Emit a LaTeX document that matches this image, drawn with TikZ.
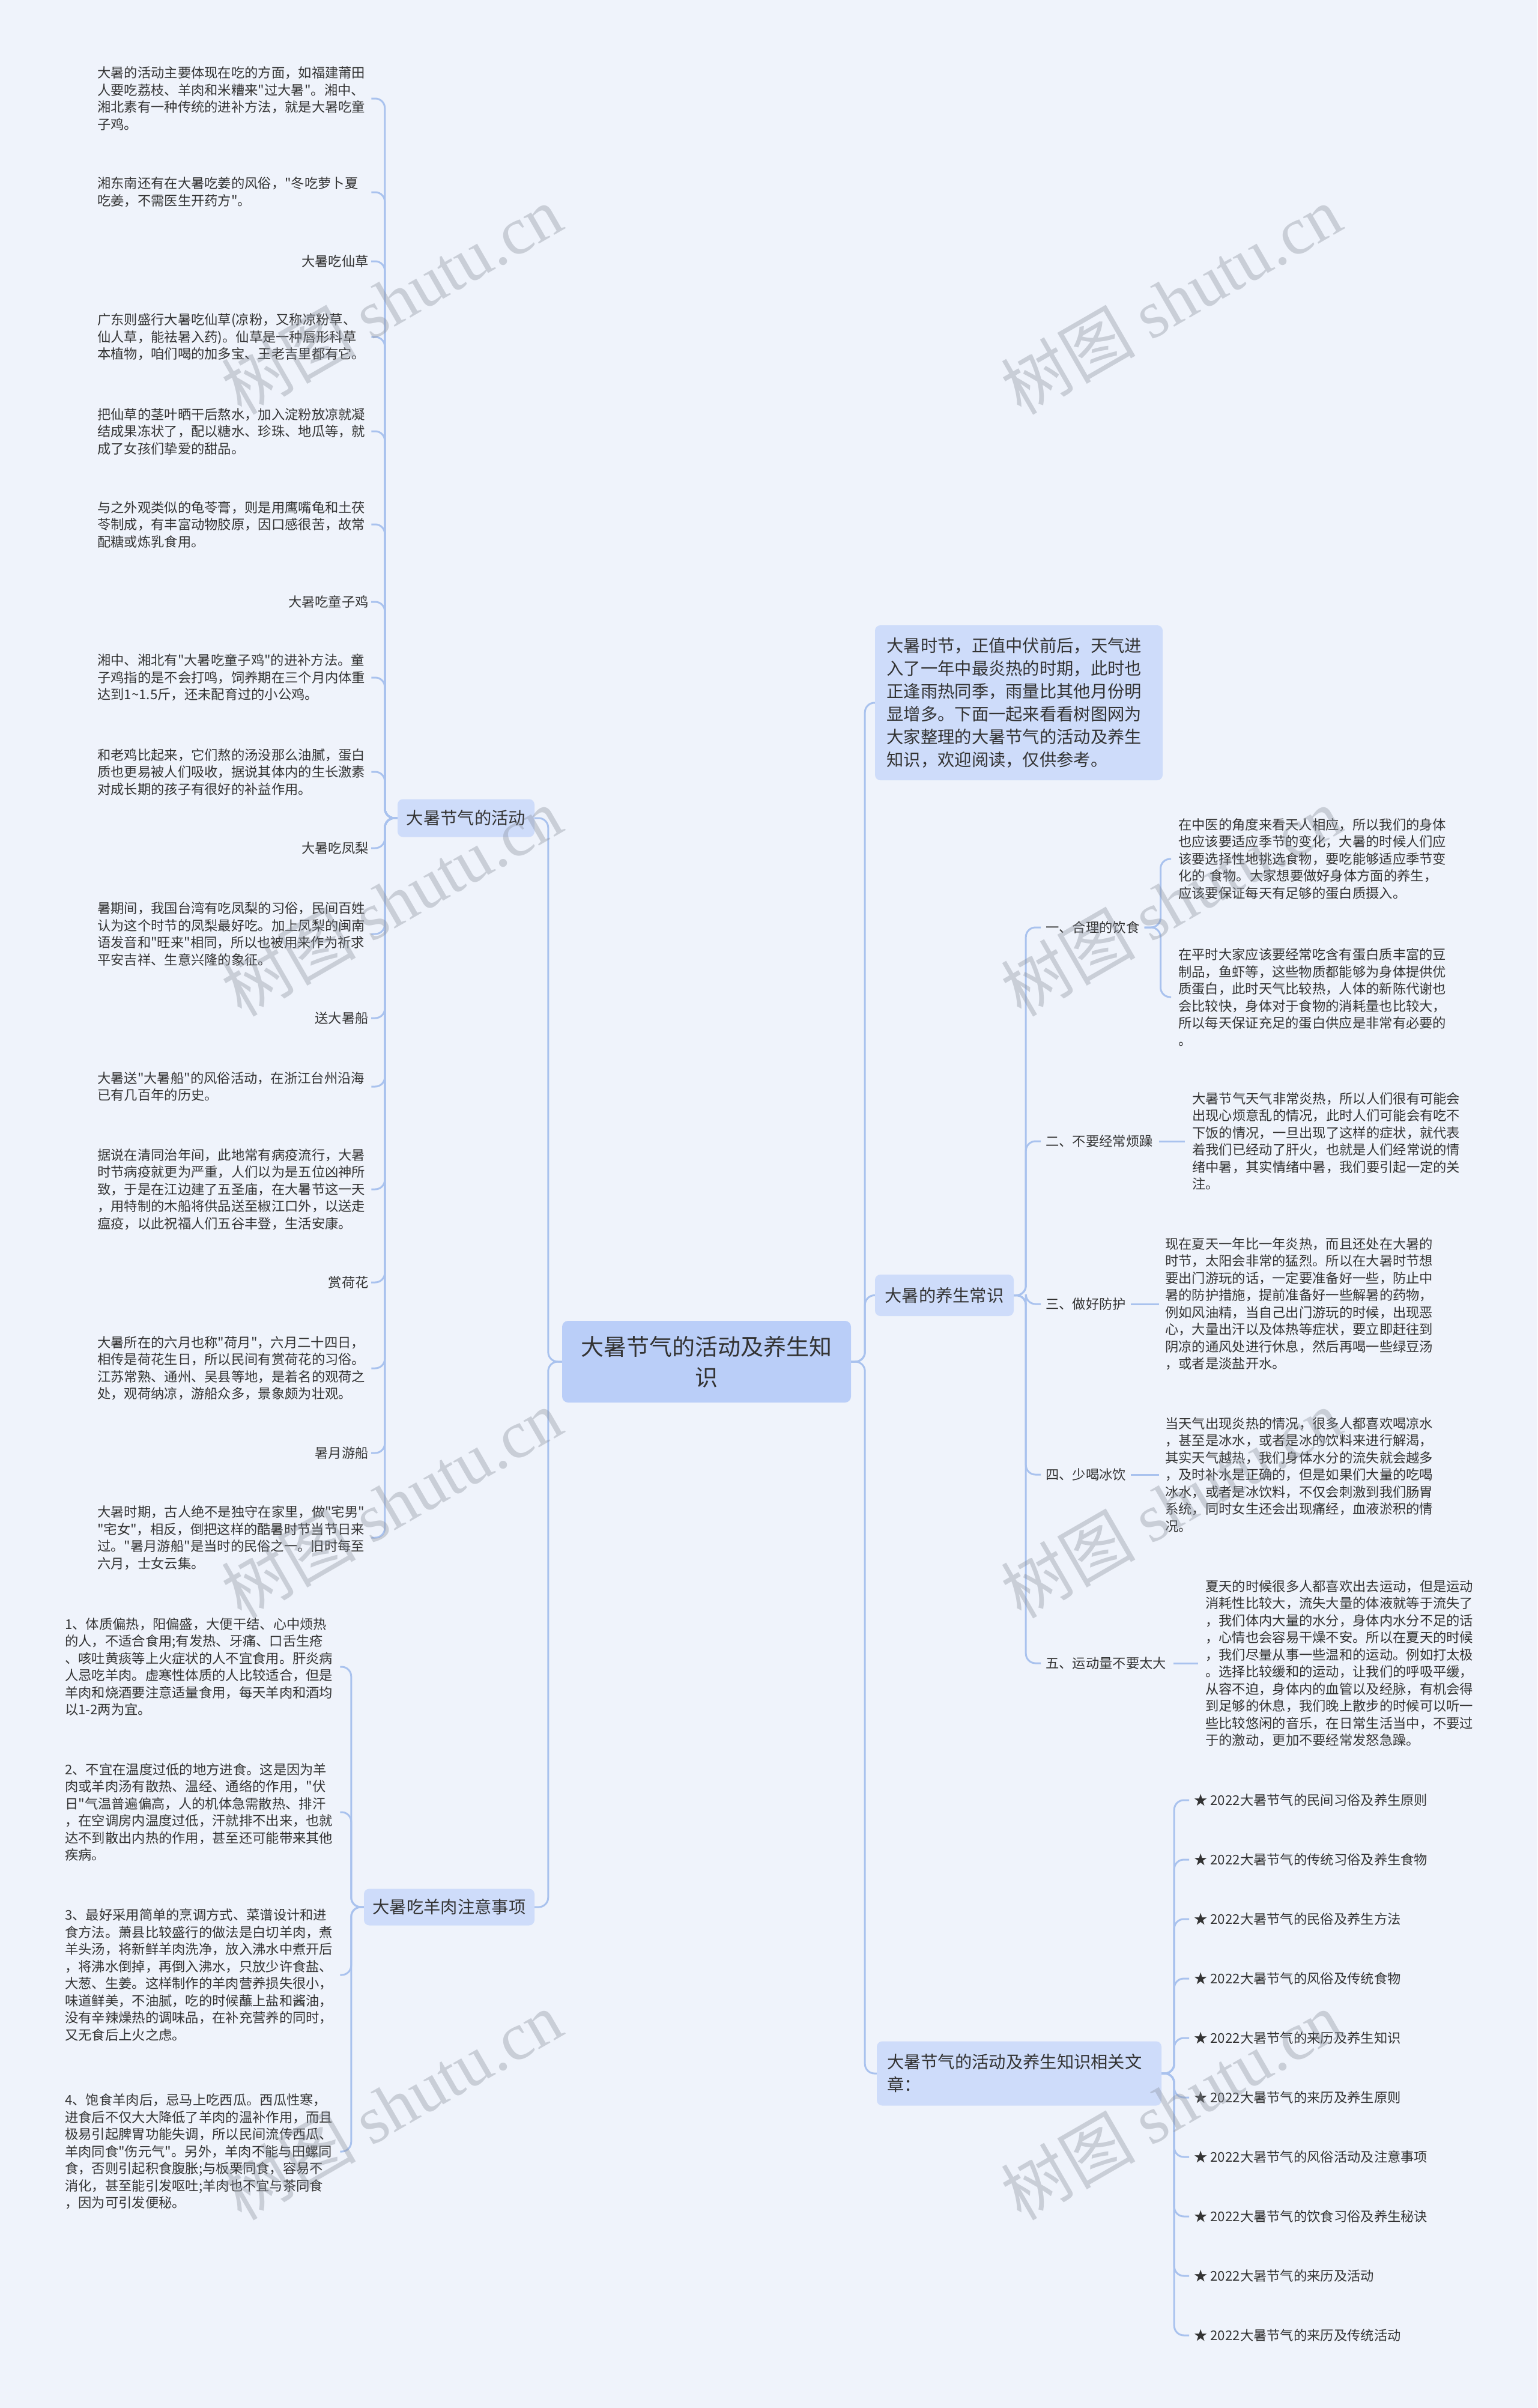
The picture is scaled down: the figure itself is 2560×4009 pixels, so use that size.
\documentclass[tikz,border=0pt]{standalone}
\usepackage{fontspec}
\setmainfont{Noto Sans CJK SC}[Ligatures=TeXOff]
\newfontfamily\wmserif{Liberation Serif}
\definecolor{bgc}{HTML}{EFF3FB}
\definecolor{rootc}{HTML}{BACEF8}
\definecolor{lvc}{HTML}{CEDCFA}
\definecolor{linec}{HTML}{A9C2EE}
\definecolor{txt}{HTML}{333333}
\definecolor{wmc}{RGB}{140,146,158}
\begin{document}
\begin{tikzpicture}[x=1pt,y=-1pt,
  body/.style={font=\fontsize{22.3}{28.5}\selectfont, text=txt, inner sep=0pt, align=left, text width=452pt},
  lbl/.style={font=\fontsize{22.3}{28.5}\selectfont, text=txt, inner sep=0pt},
  topic/.style={fill=lvc, rounded corners=9pt, font=\fontsize{28.3}{38}\selectfont, text=txt, inner sep=0pt, align=center},
  topicwide/.style={fill=lvc, rounded corners=9pt, font=\fontsize{28.3}{38}\selectfont, text=txt, inner ysep=0pt, inner xsep=19.5pt, align=left, text width=440pt},
  rootbox/.style={fill=rootc, rounded corners=10pt, font=\fontsize{38}{51}\selectfont, text=txt, inner sep=0pt, align=center, minimum width=481pt, minimum height=136pt},
  conn/.style={draw=linec, line width=3pt, rounded corners=16pt},
  wm/.style={rotate=30, text=wmc, text opacity=0.38, inner sep=0pt, font=\fontsize{112}{112}\selectfont}
]
\fill[bgc] (0,0) rectangle (2560,4009);
\useasboundingbox (0,0) rectangle (2560,4009);

% ---------- root and main topics ----------
\node[rootbox] (root) at (1176.5,2267) {大暑节气的活动及养生知\\识};
\node[topic, minimum width=228pt, minimum height=63pt] (act) at (776,1362) {大暑节气的活动};
\node[topic, minimum width=284pt, minimum height=61pt] (lamb) at (748,3175) {大暑吃羊肉注意事项};
\node[topic, minimum width=231pt, minimum height=69pt] (ys) at (1572.5,2156.5) {大暑的养生常识};
\node[topicwide, minimum height=258pt] (intro) at (1696.5,1170) {大暑时节，正值中伏前后，天气进\\入了一年中最炎热的时期，此时也\\正逢雨热同季，雨量比其他月份明\\显增多。下面一起来看看树图网为\\大家整理的大暑节气的活动及养生\\知识，欢迎阅读，仅供参考。};
\node[topicwide, minimum height=107pt, inner xsep=17pt] (art) at (1697,3452) {大暑节气的活动及养生知识相关文\\章：};

% ---------- activities ----------
\node[body, anchor=west] (a1) at (162,164) {大暑的活动主要体现在吃的方面，如福建莆田\\人要吃荔枝、羊肉和米糟来"过大暑"。湘中、\\湘北素有一种传统的进补方法，就是大暑吃童\\子鸡。};
\node[body, anchor=west] (a2) at (162,320) {湘东南还有在大暑吃姜的风俗，"冬吃萝卜夏\\吃姜，不需医生开药方"。};
\node[lbl, anchor=east] (a3) at (614,435) {大暑吃仙草};
\node[body, anchor=west] (a4) at (162,561) {广东则盛行大暑吃仙草(凉粉，又称凉粉草、\\仙人草，能祛暑入药)。仙草是一种唇形科草\\本植物，咱们喝的加多宝、王老吉里都有它。};
\node[body, anchor=west] (a5) at (162,718) {把仙草的茎叶晒干后熬水，加入淀粉放凉就凝\\结成果冻状了，配以糖水、珍珠、地瓜等，就\\成了女孩们挚爱的甜品。};
\node[body, anchor=west] (a6) at (162,873) {与之外观类似的龟苓膏，则是用鹰嘴龟和土茯\\苓制成，有丰富动物胶原，因口感很苦，故常\\配糖或炼乳食用。};
\node[lbl, anchor=east] (a7) at (614,1002) {大暑吃童子鸡};
\node[body, anchor=west] (a8) at (162,1128) {湘中、湘北有"大暑吃童子鸡"的进补方法。童\\子鸡指的是不会打鸣，饲养期在三个月内体重\\达到1\textasciitilde1.5斤，还未配育过的小公鸡。};
\node[body, anchor=west] (a9) at (162,1285) {和老鸡比起来，它们熬的汤没那么油腻，蛋白\\质也更易被人们吸收，据说其体内的生长激素\\对成长期的孩子有很好的补益作用。};
\node[lbl, anchor=east] (a10) at (614,1412) {大暑吃凤梨};
\node[body, anchor=west] (a11) at (162,1555) {暑期间，我国台湾有吃凤梨的习俗，民间百姓\\认为这个时节的凤梨最好吃。加上凤梨的闽南\\语发音和"旺来"相同，所以也被用来作为祈求\\平安吉祥、生意兴隆的象征。};
\node[lbl, anchor=east] (a12) at (614,1695) {送大暑船};
\node[body, anchor=west] (a13) at (162,1809) {大暑送"大暑船"的风俗活动，在浙江台州沿海\\已有几百年的历史。};
\node[body, anchor=west] (a14) at (162,1980) {据说在清同治年间，此地常有病疫流行，大暑\\时节病疫就更为严重，人们以为是五位凶神所\\致，于是在江边建了五圣庙，在大暑节这一天\\，用特制的木船将供品送至椒江口外，以送走\\瘟疫，以此祝福人们五谷丰登，生活安康。};
\node[lbl, anchor=east] (a15) at (614,2135) {赏荷花};
\node[body, anchor=west] (a16) at (162,2278) {大暑所在的六月也称"荷月"，六月二十四日，\\相传是荷花生日，所以民间有赏荷花的习俗。\\江苏常熟、通州、吴县等地，是着名的观荷之\\处，观荷纳凉，游船众多，景象颇为壮观。};
\node[lbl, anchor=east] (a17) at (614,2419) {暑月游船};
\node[body, anchor=west] (a18) at (162,2560) {大暑时期，古人绝不是独守在家里，做"宅男"\\"宅女"，相反，倒把这样的酷暑时节当节日来\\过。"暑月游船"是当时的民俗之一。旧时每至\\六月，士女云集。};

% ---------- lamb ----------
\node[body, anchor=west] (b1) at (108,2775) {1、体质偏热，阳偏盛，大便干结、心中烦热\\的人，不适合食用;有发热、牙痛、口舌生疮\\、咳吐黄痰等上火症状的人不宜食用。肝炎病\\人忌吃羊肉。虚寒性体质的人比较适合，但是\\羊肉和烧酒要注意适量食用，每天羊肉和酒均\\以1-2两为宜。};
\node[body, anchor=west] (b2) at (108,3017) {2、不宜在温度过低的地方进食。这是因为羊\\肉或羊肉汤有散热、温经、通络的作用，"伏\\日"气温普遍偏高，人的机体急需散热、排汗\\，在空调房内温度过低，汗就排不出来，也就\\达不到散出内热的作用，甚至还可能带来其他\\疾病。};
\node[body, anchor=west] (b3) at (108,3288) {3、最好采用简单的烹调方式、菜谱设计和进\\食方法。萧县比较盛行的做法是白切羊肉，煮\\羊头汤，将新鲜羊肉洗净，放入沸水中煮开后\\，将沸水倒掉，再倒入沸水，只放少许食盐、\\大葱、生姜。这样制作的羊肉营养损失很小，\\味道鲜美，不油腻，吃的时候蘸上盐和酱油，\\没有辛辣燥热的调味品，在补充营养的同时，\\又无食后上火之虑。};
\node[body, anchor=west] (b4) at (108,3582) {4、饱食羊肉后，忌马上吃西瓜。西瓜性寒，\\进食后不仅大大降低了羊肉的温补作用，而且\\极易引起脾胃功能失调，所以民间流传西瓜、\\羊肉同食"伤元气"。另外，羊肉不能与田螺同\\食，否则引起积食腹胀;与板栗同食，容易不\\消化，甚至能引发呕吐;羊肉也不宜与茶同食\\，因为可引发便秘。};

% ---------- health ----------
\node[lbl, anchor=west] (l1) at (1741,1544) {一、合理的饮食};
\node[lbl, anchor=west] (l2) at (1741,1900) {二、不要经常烦躁};
\node[lbl, anchor=west] (l3) at (1741,2171) {三、做好防护};
\node[lbl, anchor=west] (l4) at (1741,2455) {四、少喝冰饮};
\node[lbl, anchor=west] (l5) at (1741,2769) {五、运动量不要太大};

\node[body, anchor=west] (c1a) at (1962,1430) {在中医的角度来看天人相应，所以我们的身体\\也应该要适应季节的变化，大暑的时候人们应\\该要选择性地挑选食物，要吃能够适应季节变\\化的 食物。大家想要做好身体方面的养生，\\应该要保证每天有足够的蛋白质摄入。};
\node[body, anchor=west] (c1b) at (1962,1660) {在平时大家应该要经常吃含有蛋白质丰富的豆\\制品，鱼虾等，这些物质都能够为身体提供优\\质蛋白，此时天气比较热，人体的新陈代谢也\\会比较快，身体对于食物的消耗量也比较大，\\所以每天保证充足的蛋白供应是非常有必要的\\。};
\node[body, anchor=west] (c2) at (1985,1900) {大暑节气天气非常炎热，所以人们很有可能会\\出现心烦意乱的情况，此时人们可能会有吃不\\下饭的情况，一旦出现了这样的症状，就代表\\着我们已经动了肝火，也就是人们经常说的情\\绪中暑，其实情绪中暑，我们要引起一定的关\\注。};
\node[body, anchor=west] (c3) at (1940,2171) {现在夏天一年比一年炎热，而且还处在大暑的\\时节，太阳会非常的猛烈。所以在大暑时节想\\要出门游玩的话，一定要准备好一些，防止中\\暑的防护措施，提前准备好一些解暑的药物，\\例如风油精，当自己出门游玩的时候，出现恶\\心，大量出汗以及体热等症状，要立即赶往到\\阴凉的通风处进行休息，然后再喝一些绿豆汤\\，或者是淡盐开水。};
\node[body, anchor=west] (c4) at (1940,2455) {当天气出现炎热的情况，很多人都喜欢喝凉水\\，甚至是冰水，或者是冰的饮料来进行解渴，\\其实天气越热，我们身体水分的流失就会越多\\，及时补水是正确的，但是如果们大量的吃喝\\冰水，或者是冰饮料，不仅会刺激到我们肠胃\\系统，同时女生还会出现痛经，血液淤积的情\\况。};
\node[body, anchor=west] (c5) at (2007,2769) {夏天的时候很多人都喜欢出去运动，但是运动\\消耗性比较大，流失大量的体液就等于流失了\\，我们体内大量的水分，身体内水分不足的话\\，心情也会容易干燥不安。所以在夏天的时候\\，我们尽量从事一些温和的运动。例如打太极\\。选择比较缓和的运动，让我们的呼吸平缓，\\从容不迫，身体内的血管以及经脉，有机会得\\到足够的休息，我们晚上散步的时候可以听一\\些比较悠闲的音乐，在日常生活当中，不要过\\于的激动，更加不要经常发怒急躁。};

% ---------- related articles ----------
\node[lbl, anchor=west] (r1) at (1988,2997) {★ 2022大暑节气的民间习俗及养生原则};
\node[lbl, anchor=west] (r2) at (1988,3096) {★ 2022大暑节气的传统习俗及养生食物};
\node[lbl, anchor=west] (r3) at (1988,3195) {★ 2022大暑节气的民俗及养生方法};
\node[lbl, anchor=west] (r4) at (1988,3294) {★ 2022大暑节气的风俗及传统食物};
\node[lbl, anchor=west] (r5) at (1988,3393) {★ 2022大暑节气的来历及养生知识};
\node[lbl, anchor=west] (r6) at (1988,3492) {★ 2022大暑节气的来历及养生原则};
\node[lbl, anchor=west] (r7) at (1988,3591) {★ 2022大暑节气的风俗活动及注意事项};
\node[lbl, anchor=west] (r8) at (1988,3690) {★ 2022大暑节气的饮食习俗及养生秘诀};
\node[lbl, anchor=west] (r9) at (1988,3789) {★ 2022大暑节气的来历及活动};
\node[lbl, anchor=west] (r10) at (1988,3888) {★ 2022大暑节气的来历及传统活动};

% ---------- connectors ----------
\foreach \t in {act,lamb}
  \draw[conn] (root.west) -- ++(-23,0) |- (\t.east);
\foreach \t in {intro,ys,art}
  \draw[conn] (root.east) -- ++(23,0) |- (\t.west);
\foreach \t in {a1,a2,a3,a4,a5,a6,a7,a8,a9,a10,a11,a12,a13,a14,a15,a16,a17,a18}
  \draw[conn] (act.west) -- ++(-21,0) |- ([xshift=4pt]\t.east);
\foreach \t in {b1,b2,b3,b4}
  \draw[conn] (lamb.west) -- ++(-21,0) |- ([xshift=6pt]\t.east);
\foreach \t in {l1,l2,l3,l4,l5}
  \draw[conn] (ys.east) -- ++(20,0) |- ([xshift=-8pt]\t.west);
\foreach \t in {c1a,c1b}
  \draw[conn] ([xshift=8pt]l1.east) -- ++(27,0) |- ([xshift=-12pt]\t.west);
\draw[conn] ([xshift=10pt]l2.east) -- ([xshift=-12pt]c2.west);
\draw[conn] ([xshift=8pt]l3.east) -- ([xshift=-10pt]c3.west);
\draw[conn] ([xshift=8pt]l4.east) -- ([xshift=-10pt]c4.west);
\draw[conn] ([xshift=12pt]l5.east) -- ([xshift=-12pt]c5.west);
\foreach \t in {r1,r2,r3,r4,r5,r6,r7,r8,r9,r10}
  \draw[conn] (art.east) -- ++(21,0) |- ([xshift=-8pt]\t.west);

% ---------- watermarks ----------
\node[wm] (w1) at (652,499) {树图 {\wmserif shutu.cn}};
\node[wm] (w2) at (652,1501) {树图 {\wmserif shutu.cn}};
\node[wm] (w3) at (652,2503) {树图 {\wmserif shutu.cn}};
\node[wm] (w4) at (652,3505) {树图 {\wmserif shutu.cn}};
\node[wm] (w5) at (1950,499) {树图 {\wmserif shutu.cn}};
\node[wm] (w6) at (1950,1501) {树图 {\wmserif shutu.cn}};
\node[wm] (w7) at (1950,2503) {树图 {\wmserif shutu.cn}};
\node[wm] (w8) at (1950,3505) {树图 {\wmserif shutu.cn}};
\end{tikzpicture}
\end{document}
